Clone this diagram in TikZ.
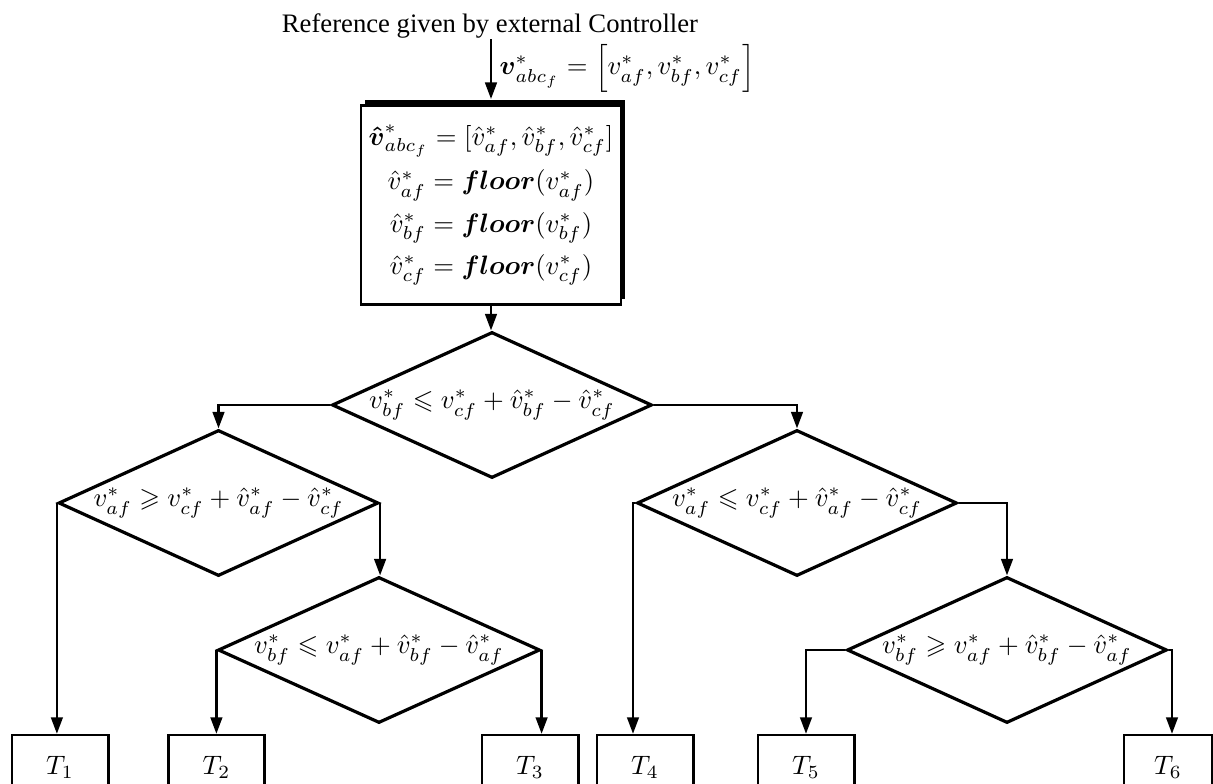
\documentclass[tikz,border=0pt]{standalone}
\usepackage{amsmath,amssymb}
\usepackage[no-math]{fontspec}
\newfontfamily\titlefont{Liberation Serif}
\usetikzlibrary{arrows.meta,shapes.geometric,shadows}
\begin{document}
\begin{tikzpicture}[x=0.375pt,y=-0.375pt,
  arr/.style={line width=0.85pt,-{Triangle[length=6.2pt,width=4.4pt]}},
  cond/.style={diamond,aspect=2.19,draw,line width=1.2pt,inner sep=0pt,minimum width=120pt,minimum height=54.75pt,font=\fontsize{10}{12}\selectfont},
  procbox/.style={draw,fill=white,line width=1pt,inner sep=0pt,
     drop shadow={shadow xshift=1.5pt,shadow yshift=2pt,fill=black,opacity=1}},
  termbox/.style={draw,fill=white,line width=0.9pt,inner sep=0pt,minimum width=36pt,minimum height=24pt,
     drop shadow={shadow xshift=0.7pt,shadow yshift=0.3pt,fill=black,opacity=1}}]
\useasboundingbox (0,0) rectangle (1213,784);
\clip (0,0) rectangle (1213,784);

\node[inner sep=0pt,anchor=base,font=\titlefont] (title) at (490,33) {Reference given by external Controller};
\node[anchor=west,inner sep=0pt] (lab) at (499,68) {$\boldsymbol{v}^*_{abc_f} = \left[v^*_{af}, v^*_{bf}, v^*_{cf}\right]$};

\node[procbox,minimum width=97.5pt,minimum height=74.5pt,align=center] (box) at (491,205)
 {$\boldsymbol{\hat{v}}^*_{abc_f} = [\hat{v}^*_{af}, \hat{v}^*_{bf}, \hat{v}^*_{cf}]$\\[3.8pt]
  $\hat{v}^*_{af} = \boldsymbol{floor}(v^*_{af})$\\[3.8pt]
  $\hat{v}^*_{bf} = \boldsymbol{floor}(v^*_{bf})$\\[3.8pt]
  $\hat{v}^*_{cf} = \boldsymbol{floor}(v^*_{cf})$};

\node[cond] (D1) at (492,405) {$v^*_{bf} \leqslant v^*_{cf} + \hat{v}^*_{bf} - \hat{v}^*_{cf}$};
\node[cond] (D2) at (218.5,503) {$v^*_{af} \geqslant v^*_{cf} + \hat{v}^*_{af} - \hat{v}^*_{cf}$};
\node[cond,minimum width=120.75pt] (D3) at (379,650) {$v^*_{bf} \leqslant v^*_{af} + \hat{v}^*_{bf} - \hat{v}^*_{af}$};
\node[cond] (D4) at (797,503) {$v^*_{af} \leqslant v^*_{cf} + \hat{v}^*_{af} - \hat{v}^*_{cf}$};
\node[cond] (D5) at (1007,650) {$v^*_{bf} \geqslant v^*_{af} + \hat{v}^*_{bf} - \hat{v}^*_{af}$};

\node[termbox] (T1) at (60,767) {$T_1$};
\node[termbox] (T2) at (216.5,767) {$T_2$};
\node[termbox] (T3) at (530,767) {$T_3$};
\node[termbox] (T4) at (645,767) {$T_4$};
\node[termbox] (T5) at (806,767) {$T_5$};
\node[termbox,minimum width=33pt] (T6) at (1168,767) {$T_6$};

\draw[arr] (title.south -| box.north) -- ([yshift=2pt]box.north);
\draw[arr] (box.south) -- (box.south |- D1.north);
\draw[arr] (D1.west) -| (D2.north);
\draw[arr] (D1.east) -| (D4.north);
\draw[arr] (D2.west) -- (D2.west |- T1.north);
\draw[arr] (D2.east) -- (D2.east |- D3.north);
\draw[arr] (D3.west) -- (D3.west |- T2.north);
\draw[arr] (D3.east) -- (D3.east |- T3.north);
\draw[arr] (D4.west) -| ([xshift=-4.5pt]T4.north);
\draw[arr] (D4.east) -| (D5.north);
\draw[arr] (D5.west) -| (T5.north);
\draw[arr] (D5.east) -| ([xshift=1.5pt]T6.north);
\end{tikzpicture}
\end{document}
